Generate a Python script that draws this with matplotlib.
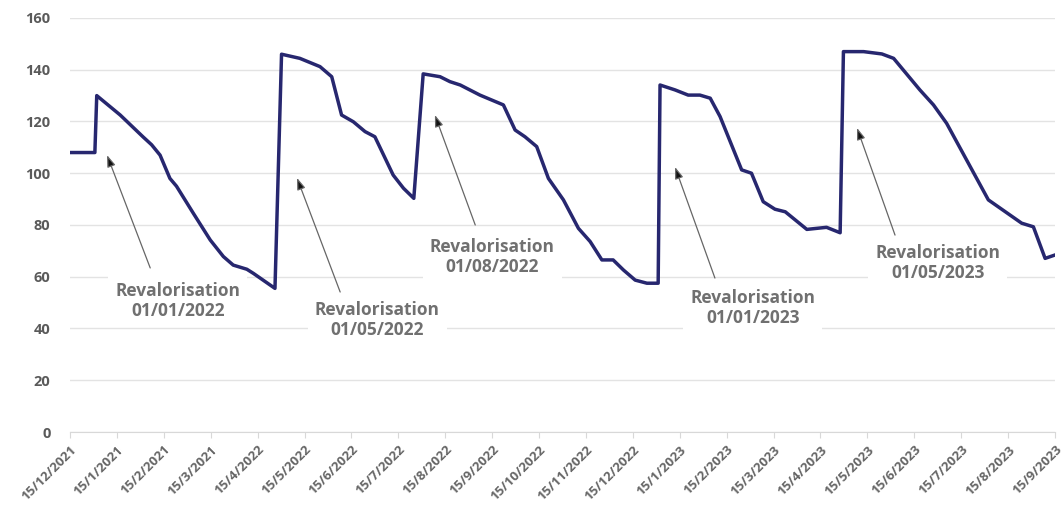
import matplotlib.pyplot as plt

# position en mois depuis le 15/12/2021 (index des graduations)
x_vals = [0.0, 0.53, 0.57, 1.07, 1.56, 1.74, 1.92, 2.13, 2.27, 2.63, 2.99, 3.27, 3.48, 3.77, 3.91, 4.37,
          4.51, 4.90, 5.33, 5.58, 5.79, 6.04, 6.29, 6.50, 6.89, 7.11, 7.33,
          7.53, 7.89, 8.10, 8.32, 8.74, 9.24, 9.49, 9.70, 9.95, 10.20, 10.52, 10.84, 11.09, 11.34, 11.58,
          11.80, 12.05, 12.30, 12.54,
          12.58, 12.90, 13.18, 13.43, 13.65, 13.86, 14.32, 14.53, 14.78, 15.03, 15.25, 15.71, 16.13, 16.42,
          16.49, 16.92, 17.31, 17.56, 18.12, 18.41, 18.69, 19.58, 20.29, 20.54, 20.79, 21.0]
y_vals = [108, 108, 130, 122.5, 114, 111, 107, 98, 95, 84.5, 74.2, 67.8, 64.5, 62.9, 61.3, 55.5,
          146, 144.4, 141.2, 137.3, 122.5, 119.9, 116.1, 114.1, 99.3, 94.2, 90.3,
          138.4, 137.3, 135.4, 134.1, 130.2, 126.4, 116.7, 114.1, 110.3, 98, 89.7, 78.7, 73.6, 66.5, 66.5,
          62.6, 58.7, 57.5, 57.5,
          134.1, 132.2, 130.2, 130.2, 129, 121.9, 101.3, 100, 89, 86.1, 85.1, 78.3, 79.1, 77,
          147, 147, 146.1, 144.4, 132.2, 126.4, 119.3, 89.7, 80.7, 79.3, 67.1, 68.4]

tick_labels = ["15/12/2021", "15/1/2021", "15/2/2021", "15/3/2021", "15/4/2022", "15/5/2022",
               "15/6/2022", "15/7/2022", "15/8/2022", "15/9/2022", "15/10/2022", "15/11/2022",
               "15/12/2022", "15/1/2023", "15/2/2023", "15/3/2023", "15/4/2023", "15/5/2023",
               "15/6/2023", "15/7/2023", "15/8/2023", "15/9/2023"]

# annotations : texte, pointe de flèche, départ de flèche, centre du texte
notes = ["Revalorisation\n01/01/2022", "Revalorisation\n01/05/2022", "Revalorisation\n01/08/2022",
         "Revalorisation\n01/01/2023", "Revalorisation\n01/05/2023"]
tips = [(0.79, 107), (4.84, 98.2), (7.78, 122.5), (12.90, 102.4), (16.78, 117.5)]
tails = [(1.71, 63.4), (5.76, 54.1), (8.64, 80), (13.75, 59.5), (17.59, 76.1)]
text_pos = [(2.30, 50.6), (6.55, 43.3), (9.0, 67.6), (14.56, 47.9), (18.5, 65.3)]

plt.rcParams['font.family'] = ['Open Sans', 'DejaVu Sans']

fig = plt.figure(figsize=(10.64, 5.08), dpi=100)
ax = fig.add_axes([0.0658, 0.1496, 0.9257, 0.815])

ax.plot(x_vals, y_vals, color='#27276f', lw=2.5, solid_joinstyle='round', zorder=3)

for txt, tip, tail, pos in zip(notes, tips, tails, text_pos):
    ax.annotate('', xy=tip, xytext=tail,
                arrowprops=dict(arrowstyle='-|>,head_length=0.7,head_width=0.25',
                                facecolor='#111111', edgecolor='#666666', lw=0.9,
                                shrinkA=0, shrinkB=0), zorder=4)
    ax.text(pos[0], pos[1], txt, ha='center', va='center', fontsize=12.5, fontweight='bold',
            color='#707070', linespacing=1.15, zorder=5,
            bbox=dict(facecolor='white', edgecolor='none', pad=5))

ax.set_xlim(0, 21)
ax.set_ylim(0, 160)
ax.set_yticks(range(0, 161, 20))
ax.set_xticks(range(len(tick_labels)))
ax.set_xticklabels(tick_labels, rotation=45, ha='right', rotation_mode='anchor')
ax.grid(axis='y', color='#e3e3e3', lw=1)
ax.set_axisbelow(True)
for s in ['top', 'right', 'left']:
    ax.spines[s].set_visible(False)
ax.spines['bottom'].set_color('#d8d8d8')
ax.tick_params(axis='y', length=0, pad=14, labelsize=10.5, labelcolor='#5a5a5a')
ax.tick_params(axis='x', length=4, color='#d8d8d8', pad=4, labelsize=9.5, labelcolor='#666666')
for lab in ax.get_yticklabels() + ax.get_xticklabels():
    lab.set_fontweight('bold')

fig.savefig('out.png', dpi=100)
